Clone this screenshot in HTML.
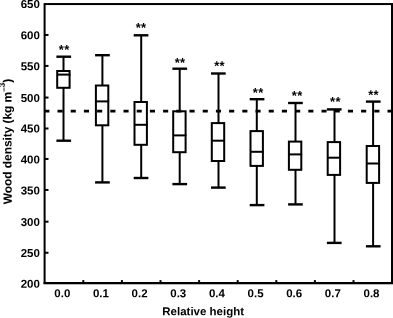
<!DOCTYPE html>
<html><head><meta charset="utf-8"><title>Wood density vs relative height</title>
<style>
html,body{margin:0;padding:0;background:#fff;}
svg{display:block;}
text{font-family:"Liberation Sans",Arial,Helvetica,sans-serif;font-weight:bold;fill:#000;}
</style></head><body>
<svg width="393" height="318" viewBox="0 0 393 318">
<rect x="0" y="0" width="393" height="318" fill="#fff"/>
<line x1="44.3" y1="111.1" x2="393" y2="111.1" stroke="#000" stroke-width="2.9" stroke-dasharray="5.1 8.1"/>
<rect x="44.6" y="4.05" width="347.4" height="279.0" fill="none" stroke="#000" stroke-width="2"/>
<line x1="43.6" y1="283.1" x2="393" y2="283.1" stroke="#000" stroke-width="2.3"/>
<line x1="44.6" y1="34.95" x2="48.5" y2="34.95" stroke="#000" stroke-width="2"/>
<line x1="44.6" y1="65.9" x2="48.5" y2="65.9" stroke="#000" stroke-width="2"/>
<line x1="44.6" y1="97.55" x2="48.5" y2="97.55" stroke="#000" stroke-width="2"/>
<line x1="44.6" y1="128.5" x2="48.5" y2="128.5" stroke="#000" stroke-width="2"/>
<line x1="44.6" y1="158.95" x2="48.5" y2="158.95" stroke="#000" stroke-width="2"/>
<line x1="44.6" y1="189.95" x2="48.5" y2="189.95" stroke="#000" stroke-width="2"/>
<line x1="44.6" y1="221.7" x2="48.5" y2="221.7" stroke="#000" stroke-width="2"/>
<line x1="44.6" y1="252.75" x2="48.5" y2="252.75" stroke="#000" stroke-width="2"/>
<line x1="83.30" y1="283" x2="83.30" y2="280.1" stroke="#000" stroke-width="2"/>
<line x1="121.90" y1="283" x2="121.90" y2="280.1" stroke="#000" stroke-width="2"/>
<line x1="160.50" y1="283" x2="160.50" y2="280.1" stroke="#000" stroke-width="2"/>
<line x1="199.10" y1="283" x2="199.10" y2="280.1" stroke="#000" stroke-width="2"/>
<line x1="237.70" y1="283" x2="237.70" y2="280.1" stroke="#000" stroke-width="2"/>
<line x1="276.30" y1="283" x2="276.30" y2="280.1" stroke="#000" stroke-width="2"/>
<line x1="314.90" y1="283" x2="314.90" y2="280.1" stroke="#000" stroke-width="2"/>
<line x1="353.50" y1="283" x2="353.50" y2="280.1" stroke="#000" stroke-width="2"/>
<text x="39.9" y="8.00" transform="rotate(0.03 39.9 8.00)" font-size="11.5" text-anchor="end">650</text>
<text x="39.9" y="39.30" transform="rotate(0.03 39.9 39.30)" font-size="11.5" text-anchor="end">600</text>
<text x="39.9" y="70.20" transform="rotate(0.03 39.9 70.20)" font-size="11.5" text-anchor="end">550</text>
<text x="39.9" y="101.95" transform="rotate(0.03 39.9 101.95)" font-size="11.5" text-anchor="end">500</text>
<text x="39.9" y="132.45" transform="rotate(0.03 39.9 132.45)" font-size="11.5" text-anchor="end">450</text>
<text x="39.9" y="163.45" transform="rotate(0.03 39.9 163.45)" font-size="11.5" text-anchor="end">400</text>
<text x="39.9" y="194.45" transform="rotate(0.03 39.9 194.45)" font-size="11.5" text-anchor="end">350</text>
<text x="39.9" y="226.10" transform="rotate(0.03 39.9 226.10)" font-size="11.5" text-anchor="end">300</text>
<text x="39.9" y="256.95" transform="rotate(0.03 39.9 256.95)" font-size="11.5" text-anchor="end">250</text>
<text x="39.9" y="287.70" transform="rotate(0.03 39.9 287.70)" font-size="11.5" text-anchor="end">200</text>
<text x="62.30" y="297.3" transform="rotate(0.03 62.30 297.3)" font-size="11.5" text-anchor="middle">0.0</text>
<text x="100.95" y="297.3" transform="rotate(0.03 100.95 297.3)" font-size="11.5" text-anchor="middle">0.1</text>
<text x="139.60" y="297.3" transform="rotate(0.03 139.60 297.3)" font-size="11.5" text-anchor="middle">0.2</text>
<text x="178.25" y="297.3" transform="rotate(0.03 178.25 297.3)" font-size="11.5" text-anchor="middle">0.3</text>
<text x="216.90" y="297.3" transform="rotate(0.03 216.90 297.3)" font-size="11.5" text-anchor="middle">0.4</text>
<text x="255.55" y="297.3" transform="rotate(0.03 255.55 297.3)" font-size="11.5" text-anchor="middle">0.5</text>
<text x="294.20" y="297.3" transform="rotate(0.03 294.20 297.3)" font-size="11.5" text-anchor="middle">0.6</text>
<text x="332.85" y="297.3" transform="rotate(0.03 332.85 297.3)" font-size="11.5" text-anchor="middle">0.7</text>
<text x="371.50" y="297.3" transform="rotate(0.03 371.50 297.3)" font-size="11.5" text-anchor="middle">0.8</text>
<text x="203.2" y="315.2" transform="rotate(0.03 203.2 315.2)" font-size="11.5" text-anchor="middle">Relative height</text>
<text transform="translate(11.6,141.6) rotate(-90.03)" font-size="12" text-anchor="middle" letter-spacing="-0.07">Wood density (kg m<tspan font-size="8.2" dy="-5.4">–</tspan><tspan font-size="8.2" dy="-1.5">3</tspan><tspan dy="6.9">)</tspan></text>
<g stroke="#000" stroke-width="2" fill="none"><line x1="63.5" y1="56.7" x2="63.5" y2="71.0"/><line x1="63.5" y1="87.8" x2="63.5" y2="140.7"/><line x1="56.4" y1="56.7" x2="71.1" y2="56.7" stroke-width="2.4"/><line x1="56.4" y1="140.7" x2="71.1" y2="140.7" stroke-width="2.4"/><rect x="57.2" y="71.0" width="12.4" height="16.8"/><line x1="57.2" y1="74.6" x2="70.4" y2="74.6"/></g>
<text x="64.2" y="54.0" transform="rotate(0.03 64.2 54.0)" font-size="13" letter-spacing="0.4" text-anchor="middle">**</text>
<g stroke="#000" stroke-width="2" fill="none"><line x1="102.4" y1="55.2" x2="102.4" y2="85.5"/><line x1="102.4" y1="125.3" x2="102.4" y2="182.4"/><line x1="95.1" y1="55.2" x2="109.8" y2="55.2" stroke-width="2.4"/><line x1="95.1" y1="182.4" x2="109.8" y2="182.4" stroke-width="2.4"/><rect x="95.9" y="85.5" width="12.4" height="39.8"/><line x1="95.9" y1="101.4" x2="109.1" y2="101.4"/></g>
<g stroke="#000" stroke-width="2" fill="none"><line x1="141.2" y1="35.3" x2="141.2" y2="102.0"/><line x1="141.2" y1="144.8" x2="141.2" y2="178.0"/><line x1="133.7" y1="35.3" x2="148.4" y2="35.3" stroke-width="2.4"/><line x1="133.7" y1="178.0" x2="148.4" y2="178.0" stroke-width="2.4"/><rect x="134.5" y="102.0" width="12.4" height="42.8"/><line x1="134.5" y1="124.8" x2="147.7" y2="124.8"/></g>
<text x="141.1" y="31.9" transform="rotate(0.03 141.1 31.9)" font-size="13" letter-spacing="0.4" text-anchor="middle">**</text>
<g stroke="#000" stroke-width="2" fill="none"><line x1="179.7" y1="68.7" x2="179.7" y2="111.3"/><line x1="179.7" y1="152.2" x2="179.7" y2="184.1"/><line x1="172.4" y1="68.7" x2="187.1" y2="68.7" stroke-width="2.4"/><line x1="172.4" y1="184.1" x2="187.1" y2="184.1" stroke-width="2.4"/><rect x="173.2" y="111.3" width="12.4" height="40.9"/><line x1="173.2" y1="135.4" x2="186.4" y2="135.4"/></g>
<text x="180.1" y="67.0" transform="rotate(0.03 180.1 67.0)" font-size="13" letter-spacing="0.4" text-anchor="middle">**</text>
<g stroke="#000" stroke-width="2" fill="none"><line x1="218.5" y1="73.5" x2="218.5" y2="123.1"/><line x1="218.5" y1="161.0" x2="218.5" y2="187.6"/><line x1="211.0" y1="73.5" x2="225.7" y2="73.5" stroke-width="2.4"/><line x1="211.0" y1="187.6" x2="225.7" y2="187.6" stroke-width="2.4"/><rect x="211.8" y="123.1" width="12.4" height="37.9"/><line x1="211.8" y1="140.7" x2="225.0" y2="140.7"/></g>
<text x="219.6" y="70.2" transform="rotate(0.03 219.6 70.2)" font-size="13" letter-spacing="0.4" text-anchor="middle">**</text>
<g stroke="#000" stroke-width="2" fill="none"><line x1="256.8" y1="99.2" x2="256.8" y2="131.1"/><line x1="256.8" y1="165.9" x2="256.8" y2="205.1"/><line x1="249.7" y1="99.2" x2="264.4" y2="99.2" stroke-width="2.4"/><line x1="249.7" y1="205.1" x2="264.4" y2="205.1" stroke-width="2.4"/><rect x="250.5" y="131.1" width="12.4" height="34.8"/><line x1="250.5" y1="151.8" x2="263.7" y2="151.8"/></g>
<text x="258.3" y="97.1" transform="rotate(0.03 258.3 97.1)" font-size="13" letter-spacing="0.4" text-anchor="middle">**</text>
<g stroke="#000" stroke-width="2" fill="none"><line x1="295.5" y1="103.0" x2="295.5" y2="141.6"/><line x1="295.5" y1="169.8" x2="295.5" y2="204.4"/><line x1="288.1" y1="103.0" x2="302.8" y2="103.0" stroke-width="2.4"/><line x1="288.1" y1="204.4" x2="302.8" y2="204.4" stroke-width="2.4"/><rect x="288.9" y="141.6" width="12.4" height="28.2"/><line x1="288.9" y1="154.4" x2="302.1" y2="154.4"/></g>
<text x="297.2" y="100.0" transform="rotate(0.03 297.2 100.0)" font-size="13" letter-spacing="0.4" text-anchor="middle">**</text>
<g stroke="#000" stroke-width="2" fill="none"><line x1="334.5" y1="109.4" x2="334.5" y2="142.1"/><line x1="334.5" y1="174.9" x2="334.5" y2="242.9"/><line x1="326.9" y1="109.4" x2="341.6" y2="109.4" stroke-width="2.4"/><line x1="326.9" y1="242.9" x2="341.6" y2="242.9" stroke-width="2.4"/><rect x="327.7" y="142.1" width="12.4" height="32.8"/><line x1="327.7" y1="157.7" x2="340.9" y2="157.7"/></g>
<text x="335.4" y="106.0" transform="rotate(0.03 335.4 106.0)" font-size="13" letter-spacing="0.4" text-anchor="middle">**</text>
<g stroke="#000" stroke-width="2" fill="none"><line x1="373.1" y1="101.6" x2="373.1" y2="146.0"/><line x1="373.1" y1="182.95" x2="373.1" y2="246.3"/><line x1="365.9" y1="101.6" x2="380.6" y2="101.6" stroke-width="2.4"/><line x1="365.9" y1="246.3" x2="380.6" y2="246.3" stroke-width="2.4"/><rect x="366.7" y="146.0" width="12.4" height="36.9"/><line x1="366.7" y1="163.5" x2="379.9" y2="163.5"/></g>
<text x="373.6" y="99.2" transform="rotate(0.03 373.6 99.2)" font-size="13" letter-spacing="0.4" text-anchor="middle">**</text>
</svg>
</body></html>
